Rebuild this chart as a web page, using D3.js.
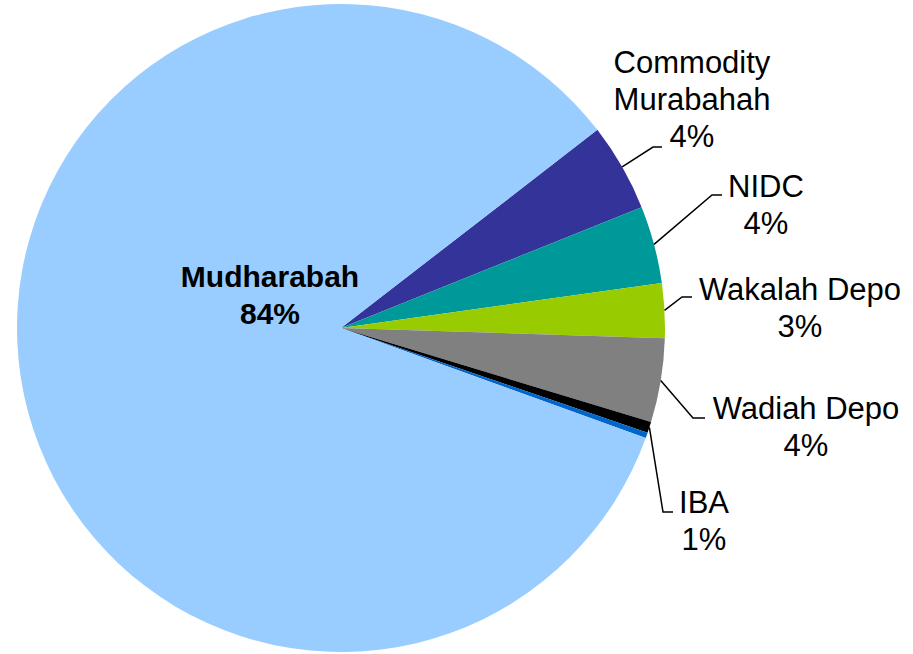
<!DOCTYPE html>
<html>
<head>
<meta charset="utf-8">
<script src="https://cdn.jsdelivr.net/npm/d3@7"></script>
<style>
    body { margin: 0; background: #fff; }
    svg { display: block; }
    text { font-family: "Liberation Sans", Arial, sans-serif; fill: #000; }
</style>
</head>
<body>
<div id="chart"></div>
<script>
// slice order is clockwise, starting at the Commodity Murabahah slice
const categories = ["Commodity Murabahah", "NIDC", "Wakalah Depo", "Wadiah Depo", "IBA", "Other", "Mudharabah"];
const shares = [4.39, 3.86, 2.72, 4.19, 0.55, 0.28, 84.01];
const shownPct = ["4%", "4%", "3%", "4%", "1%", "", "84%"];
const labelLines = [["Commodity", "Murabahah"], ["NIDC"], ["Wakalah Depo"], ["Wadiah Depo"], ["IBA"], [], ["Mudharabah"]];
const colors = ["#333399", "#009999", "#99cc00", "#808080", "#000000", "#0066cc", "#99ccff"];

const width = 913, height = 654;
const cx = 341, cy = 328, radius = 324;
const startDeg = 52.3;

// label layout, relative to the pie centre: text centre x, first baseline y, leader elbow
const labelLayout = [
    { x: 351, y: -255, elbow: [312, -181], end: [321, -181] },
    { x: 425, y: -131, elbow: [371, -133], end: [381, -133] },
    { x: 459, y: -28, elbow: [341, -31], end: [351, -31] },
    { x: 465, y: 91, elbow: [352, 90], end: [364, 90] },
    { x: 363, y: 185, elbow: [322, 184], end: [332, 184] },
    null,
    { x: -71, y: -41, inside: true }
];

const svg = d3.select("#chart")
    .append("svg")
    .attr("width", width)
    .attr("height", height);

const g = svg.append("g")
    .attr("transform", `translate(${cx},${cy})`);

const data = categories.map((c, i) => ({ name: c, value: shares[i], i: i }));

const pie = d3.pie()
    .sort(null)
    .value(d => d.value)
    .startAngle(startDeg * Math.PI / 180)
    .endAngle(startDeg * Math.PI / 180 + 2 * Math.PI);

const arc = d3.arc()
    .innerRadius(0)
    .outerRadius(radius);

const arcs = pie(data);

g.selectAll("path.slice")
    .data(arcs)
    .enter()
    .append("path")
    .attr("class", "slice")
    .attr("d", arc)
    .attr("fill", d => colors[d.data.i]);

// leader lines
arcs.forEach(a => {
    const lay = labelLayout[a.data.i];
    if (!lay || lay.inside) return;
    const mid = (a.startAngle + a.endAngle) / 2;
    const p0 = [radius * Math.sin(mid), -radius * Math.cos(mid)];
    g.append("polyline")
        .attr("points", [p0, lay.elbow, lay.end].map(p => p.join(",")).join(" "))
        .attr("fill", "none")
        .attr("stroke", "#000")
        .attr("stroke-width", 1.5);
});

// labels
const lineH = 37;
arcs.forEach(a => {
    const i = a.data.i;
    const lay = labelLayout[i];
    if (!lay) return;
    const lines = labelLines[i].concat([shownPct[i]]);
    const t = g.append("text")
        .attr("text-anchor", "middle")
        .style("font-size", lay.inside ? "30px" : "31px")
        .style("font-weight", lay.inside ? "bold" : "normal");
    lines.forEach((ln, k) => {
        t.append("tspan")
            .attr("x", lay.x)
            .attr("y", lay.y + k * lineH)
            .text(ln);
    });
});
</script>
</body>
</html>
